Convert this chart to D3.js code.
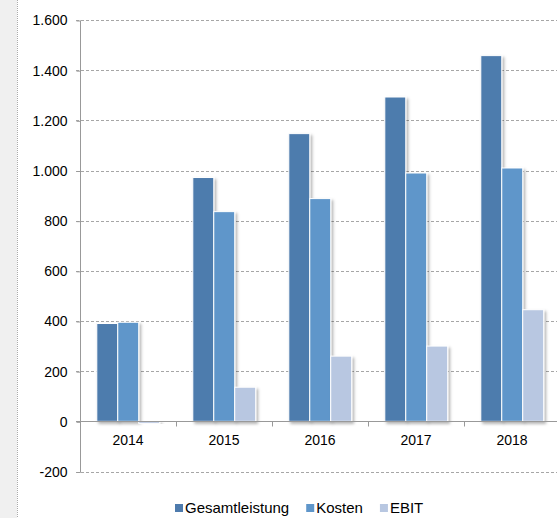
<!DOCTYPE html>
<html>
<head>
<meta charset="utf-8">
<script src="https://cdn.jsdelivr.net/npm/d3@7"></script>
<style>
  body { margin: 0; background: #fff; }
  svg { display: block; font-family: "Liberation Sans", Arial, sans-serif; }
</style>
</head>
<body>
<div id="chart"></div>
<script>
// data
const years = ["2014", "2015", "2016", "2017", "2018"];
const seriesNames = ["Gesamtleistung", "Kosten", "EBIT"];
const gesamtleistung = [390, 972, 1147, 1293, 1458];
const kosten = [395, 836, 888, 990, 1010];
const ebit = [-8, 136, 260, 300, 445];
const yTicks = [-200, 0, 200, 400, 600, 800, 1000, 1200, 1400, 1600];

const colors = ["#4e7bad", "#5f96ca", "#b8c7e1"];

const width = 557, height = 518;
const margin = { top: 20, left: 80, right: -3, bottom: 46 };

const svg = d3.select("#chart").append("svg")
    .attr("width", width)
    .attr("height", height);

// bar shadow
const defs = svg.append("defs");
const f = defs.append("filter").attr("id", "shadow")
    .attr("x", "-20%").attr("y", "-10%").attr("width", "150%").attr("height", "130%");
f.append("feDropShadow")
    .attr("dx", 2).attr("dy", 2).attr("stdDeviation", 1.5)
    .attr("flood-color", "#000").attr("flood-opacity", 0.3);

// grey side panel on the left
svg.append("rect").attr("x", 0).attr("y", 0).attr("width", 17).attr("height", height)
    .attr("fill", "#f0f0f0");
svg.append("line").attr("x1", 17.5).attr("x2", 17.5).attr("y1", 0).attr("y2", height)
    .attr("stroke", "#aaa").attr("stroke-dasharray", "1,1");

const x0 = d3.scaleBand()
    .domain(years)
    .range([margin.left, width - margin.right])
    .paddingInner(0)
    .paddingOuter(0);

const x1 = d3.scaleBand()
    .domain(seriesNames)
    .range([x0.bandwidth() * 0.175, x0.bandwidth() * 0.83])
    .paddingInner(0);

const y = d3.scaleLinear()
    .domain([-200, 1600])
    .range([height - margin.bottom - 0.5, margin.top]);

const de = d3.formatLocale({ decimal: ",", thousands: ".", grouping: [3], currency: ["", " €"], minus: "-" });
const fmt = de.format(",d");

// gridlines
svg.append("g")
  .selectAll("line")
  .data(yTicks.filter(d => d !== 0))
  .join("line")
    .attr("x1", margin.left - 4)
    .attr("x2", width)
    .attr("y1", d => Math.round(y(d)) + 0.5)
    .attr("y2", d => Math.round(y(d)) + 0.5)
    .attr("stroke", "#a6a6a6")
    .attr("stroke-dasharray", "3,2");

// y axis
const yAxis = svg.append("g")
    .attr("transform", "translate(" + (margin.left + 0.5) + ",0.5)")
    .call(d3.axisLeft(y).tickValues(yTicks).tickFormat(fmt).tickSize(4).tickPadding(9));
yAxis.select(".domain").attr("stroke", "#999").attr("d", "M0," + Math.round(y(1600)) + "V" + Math.round(y(-200)));
yAxis.selectAll(".tick line").attr("stroke", "#999");
yAxis.selectAll(".tick text")
    .attr("fill", "#000")
    .style("font-size", "14px");

const table = years.map((yr, i) => ({
  year: yr,
  values: [gesamtleistung[i], kosten[i], ebit[i]].map((v, j) => ({ key: seriesNames[j], value: v }))
}));

// bars
svg.append("g")
  .selectAll("g")
  .data(table)
  .join("g")
    .attr("transform", d => "translate(" + x0(d.year) + ",0)")
  .selectAll("rect")
  .data(d => d.values)
  .join("rect")
    .attr("x", d => x1(d.key))
    .attr("y", d => y(Math.max(0, d.value)))
    .attr("width", x1.bandwidth())
    .attr("height", d => Math.abs(y(d.value) - y(0)))
    .attr("fill", d => colors[seriesNames.indexOf(d.key)])
    .attr("stroke", "#fff")
    .attr("stroke-width", 1)
    .attr("filter", "url(#shadow)");

// x axis at zero
const xAxis = svg.append("g")
    .attr("transform", "translate(0," + (Math.round(y(0)) + 0.5) + ")")
    .call(d3.axisBottom(x0).tickSize(0));
xAxis.select(".domain").attr("stroke", "#999").attr("d", "M" + (margin.left - 4) + ",0H" + width);
xAxis.selectAll(".tick text")
    .attr("fill", "#000")
    .attr("y", 23)
    .attr("dy", null)
    .style("font-size", "14px");

// tick marks between categories
xAxis.append("g")
  .selectAll("line")
  .data(years.slice(1))
  .join("line")
    .attr("x1", d => Math.round(x0(d)) + 0.5)
    .attr("x2", d => Math.round(x0(d)) + 0.5)
    .attr("y1", 0)
    .attr("y2", 5)
    .attr("stroke", "#999");

// legend
const legend = svg.append("g").attr("transform", "translate(175,513)");
let lx = 0;
seriesNames.forEach((name, i) => {
  const g = legend.append("g").attr("transform", "translate(" + lx + ",0)");
  g.append("rect").attr("x", 0).attr("y", -9).attr("width", 8).attr("height", 8).attr("fill", colors[i]);
  const t = g.append("text").attr("x", 10).attr("y", 0).attr("fill", "#000")
      .style("font-size", "15px").text(name);
  lx += 10 + t.node().getComputedTextLength() + 17;
});
</script>
</body>
</html>
